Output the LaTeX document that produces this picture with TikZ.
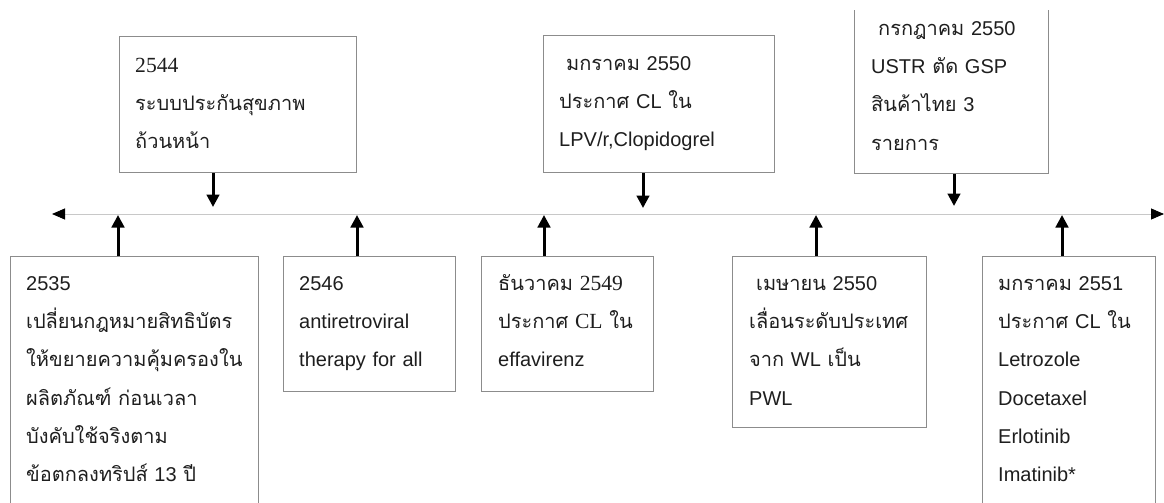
\documentclass[tikz,border=0pt]{standalone}
\usepackage{fontspec}
\setmainfont{Liberation Sans}
\newfontfamily\thai[Script=Thai]{Loma}
\newfontfamily\serifl[Scale=1.08]{Liberation Serif}
\usetikzlibrary{arrows.meta}
\definecolor{boxgray}{HTML}{8C8C8C}
\definecolor{linegray}{HTML}{C8C8C8}
\definecolor{textc}{HTML}{1E1E1E}
\newcommand{\T}[1]{{\thai #1}}
\newcommand{\fst}{\rule{0pt}{24pt}}
\begin{document}
\begin{tikzpicture}[x=1pt,y=-1pt,
  box/.style={draw=boxgray, line width=1pt, anchor=north west, inner sep=0pt},
  txt/.style={anchor=north west, inner sep=0pt, text width=260pt, align=left,
    font=\fontsize{20}{38.3}\selectfont, text=textc},
  arr/.style={line width=3pt, -{Triangle[length=12.5pt,width=12.5pt]}},
  timeline/.style={draw=linegray, line width=0.9pt,
    {Triangle[length=13pt,width=11pt,color=black]}-{Triangle[length=13pt,width=11pt,color=black]}}
]
\useasboundingbox (0,0) rectangle (1164,503);
\begin{scope}
\clip (0,11) rectangle (1164,503);
% boxes
\node[box, minimum width=237pt, minimum height=136pt] (b2544) at (119,36) {};
\node[box, minimum width=231pt, minimum height=137pt] (b2550a) at (543,35) {};
\node[box, minimum width=194pt, minimum height=193pt] (b2550b) at (854,-20) {};
\node[box, minimum width=248pt, minimum height=270pt] (b2535) at (10,256) {};
\node[box, minimum width=172pt, minimum height=135pt] (b2546) at (283,256) {};
\node[box, minimum width=172pt, minimum height=135pt] (b2549) at (481,256) {};
\node[box, minimum width=194pt, minimum height=171pt] (b2550c) at (732,256) {};
\node[box, minimum width=173pt, minimum height=270pt] (b2551) at (982,256) {};
% texts
\node[txt] (t2544) at (135,48) {\fst{\serifl 2544}\\ \T{ระบบประกันสุขภาพ}\\ \T{ถ้วนหน้า}};
\node[txt] (t2550a) at (559,46) {\fst\hspace*{7pt}\T{มกราคม} 2550\\ \T{ประกาศ} CL \T{ใน}\\ LPV/r,Clopidogrel};
\node[txt] (t2550b) at (871,11) {\fst\hspace*{7pt}\T{กรกฎาคม} 2550\\ USTR \T{ตัด} GSP\\ \T{สินค้าไทย} 3\\ \T{รายการ}};
\node[txt] (t2535) at (26,266) {\fst 2535\\ \T{เปลี่ยนกฎหมายสิทธิบัตร}\\ \T{ให้ขยายความคุ้มครองใน}\\ \T{ผลิตภัณฑ์ ก่อนเวลา}\\ \T{บังคับใช้จริงตาม}\\ \T{ข้อตกลงทริปส์} 13 \T{ปี}};
\node[txt] (t2546) at (299,266) {\fst 2546\\ antiretroviral\\ therapy for all};
\node[txt] (t2549) at (498,266) {\fst\T{ธันวาคม} {\serifl 2549}\\ \T{ประกาศ} {\serifl CL} \T{ใน}\\ effavirenz};
\node[txt] (t2550c) at (749,266) {\fst\hspace*{7pt}\T{เมษายน} 2550\\ \T{เลื่อนระดับประเทศ}\\ \T{จาก} WL \T{เป็น}\\ PWL};
\node[txt] (t2551) at (998,266) {\fst\T{มกราคม} 2551\\ \T{ประกาศ} CL \T{ใน}\\ Letrozole\\ Docetaxel\\ Erlotinib\\ Imatinib*};
\end{scope}
% timeline
\coordinate (tlL) at (52,214);
\coordinate (tlR) at (1164,214);
\draw[timeline] (tlL) -- (tlR);
% arrow ends on the timeline
\coordinate (a2535) at (118,215);
\coordinate (a2544) at (213,207);
\coordinate (a2546) at (357,215);
\coordinate (a2549) at (544,215);
\coordinate (a2550a) at (643,208);
\coordinate (a2550c) at (816,215);
\coordinate (a2550b) at (954,206);
\coordinate (a2551) at (1062,215);
\draw[arr] (b2544.south -| a2544) -- (a2544);
\draw[arr] (b2550a.south -| a2550a) -- (a2550a);
\draw[arr] (b2550b.south -| a2550b) -- (a2550b);
\draw[arr] (b2535.north -| a2535) -- (a2535);
\draw[arr] (b2546.north -| a2546) -- (a2546);
\draw[arr] (b2549.north -| a2549) -- (a2549);
\draw[arr] (b2550c.north -| a2550c) -- (a2550c);
\draw[arr] (b2551.north -| a2551) -- (a2551);
\end{tikzpicture}
\end{document}
